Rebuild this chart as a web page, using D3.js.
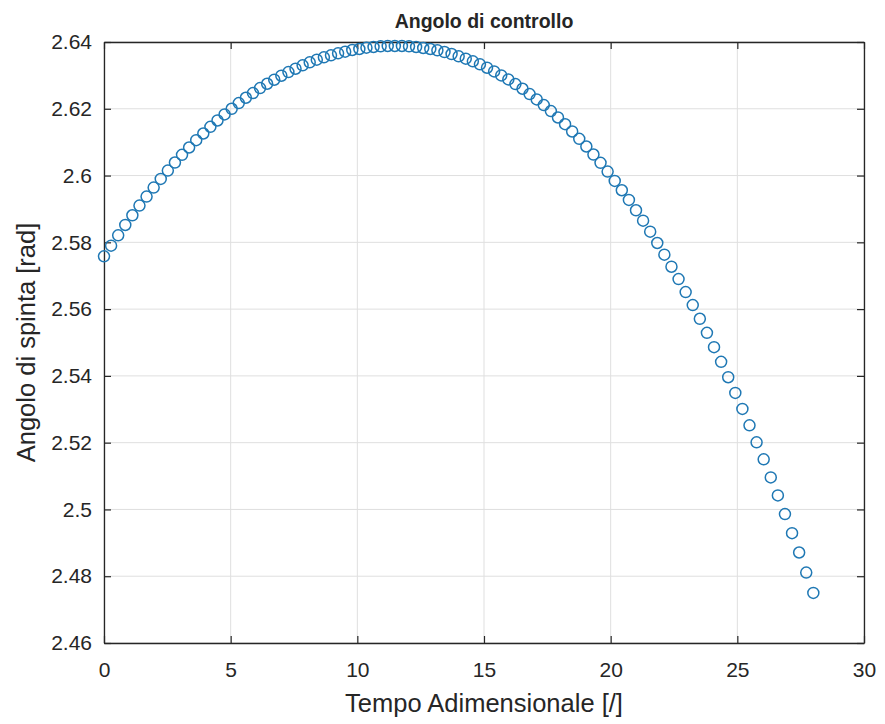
<!DOCTYPE html>
<html>
<head>
<meta charset="utf-8">
<script src="https://cdn.jsdelivr.net/npm/d3@7"></script>
<style>
  body { margin: 0; background: #ffffff; }
  svg { display: block; }
  text { font-family: "Liberation Sans", Arial, Helvetica, sans-serif; fill: #262626; }
</style>
</head>
<body>
<svg id="chart" width="885" height="724"></svg>
<script>
// Dimensionless time samples
const tempo = [
  0.00, 0.28, 0.56, 0.84, 1.12, 1.40, 1.68, 1.96, 2.24, 2.52,
  2.80, 3.08, 3.36, 3.64, 3.92, 4.20, 4.48, 4.76, 5.04, 5.32,
  5.60, 5.88, 6.16, 6.44, 6.72, 7.00, 7.28, 7.56, 7.84, 8.12,
  8.40, 8.68, 8.96, 9.24, 9.52, 9.80, 10.08, 10.36, 10.64, 10.92,
  11.20, 11.48, 11.76, 12.04, 12.32, 12.60, 12.88, 13.16, 13.44, 13.72,
  14.00, 14.28, 14.56, 14.84, 15.12, 15.40, 15.68, 15.96, 16.24, 16.52,
  16.80, 17.08, 17.36, 17.64, 17.92, 18.20, 18.48, 18.76, 19.04, 19.32,
  19.60, 19.88, 20.16, 20.44, 20.72, 21.00, 21.28, 21.56, 21.84, 22.12,
  22.40, 22.68, 22.96, 23.24, 23.52, 23.80, 24.08, 24.36, 24.64, 24.92,
  25.20, 25.48, 25.76, 26.04, 26.32, 26.60, 26.88, 27.16, 27.44, 27.72,
  28.00
];

// Thrust angle [rad] at each sample
const angolo = [
  2.5758, 2.5790, 2.5821, 2.5852, 2.5881, 2.5910, 2.5937, 2.5964, 2.5990, 2.6015,
  2.6039, 2.6062, 2.6084, 2.6106, 2.6126, 2.6146, 2.6165, 2.6183, 2.6200, 2.6217,
  2.6233, 2.6247, 2.6262, 2.6275, 2.6287, 2.6299, 2.6310, 2.6320, 2.6330, 2.6339,
  2.6347, 2.6354, 2.6360, 2.6366, 2.6371, 2.6376, 2.6379, 2.6383, 2.6385, 2.6387,
  2.6388, 2.6388, 2.6388, 2.6387, 2.6385, 2.6382, 2.6379, 2.6375, 2.6370, 2.6364,
  2.6357, 2.6350, 2.6342, 2.6333, 2.6323, 2.6312, 2.6300, 2.6288, 2.6274, 2.6260,
  2.6244, 2.6228, 2.6211, 2.6193, 2.6174, 2.6154, 2.6132, 2.6110, 2.6087, 2.6063,
  2.6038, 2.6012, 2.5984, 2.5956, 2.5927, 2.5896, 2.5865, 2.5832, 2.5798, 2.5763,
  2.5727, 2.5690, 2.5651, 2.5612, 2.5571, 2.5529, 2.5486, 2.5442, 2.5396, 2.5349,
  2.5301, 2.5252, 2.5201, 2.5150, 2.5096, 2.5042, 2.4986, 2.4929, 2.4871, 2.4811,
  2.4750
];

const xTicks = [0, 5, 10, 15, 20, 25, 30];
const xTickLabels = ["0", "5", "10", "15", "20", "25", "30"];
const yTicks = [2.46, 2.48, 2.50, 2.52, 2.54, 2.56, 2.58, 2.60, 2.62, 2.64];
const yTickLabels = ["2.46", "2.48", "2.5", "2.52", "2.54", "2.56", "2.58", "2.6", "2.62", "2.64"];

const titolo = "Angolo di controllo";
const etichettaX = "Tempo Adimensionale [/]";
const etichettaY = "Angolo di spinta [rad]";

// Plot box
const box = { left: 104, right: 864, top: 42, bottom: 643 };
const tickLen = 7;

const x = d3.scaleLinear().domain([0, 30]).range([box.left, box.right]);
const y = d3.scaleLinear().domain([2.46, 2.64]).range([box.bottom, box.top]);

const svg = d3.select("#chart");

// Grid
const grid = svg.append("g").attr("class", "grid");
grid.selectAll("line.gx").data(xTicks).join("line")
  .attr("class", "gx")
  .attr("x1", d => x(d)).attr("x2", d => x(d))
  .attr("y1", box.top).attr("y2", box.bottom)
  .attr("stroke", "#dfdfdf").attr("stroke-width", 1);
grid.selectAll("line.gy").data(yTicks).join("line")
  .attr("class", "gy")
  .attr("x1", box.left).attr("x2", box.right)
  .attr("y1", d => y(d)).attr("y2", d => y(d))
  .attr("stroke", "#dfdfdf").attr("stroke-width", 1);

// Axes (ticks point inward on all four sides)
function styleAxis(g) {
  g.select(".domain").attr("stroke", "#262626").attr("stroke-width", 1.3);
  g.selectAll(".tick line").attr("stroke", "#262626").attr("stroke-width", 1.2);
  g.selectAll(".tick text").attr("fill", "#333333").style("font-size", "21px");
}

svg.append("g")
  .attr("transform", `translate(0,${box.bottom})`)
  .call(d3.axisBottom(x).tickValues(xTicks).tickSizeInner(-tickLen).tickSizeOuter(0)
    .tickPadding(19).tickFormat((d, i) => xTickLabels[i]))
  .call(styleAxis);

svg.append("g")
  .attr("transform", `translate(0,${box.top})`)
  .call(d3.axisTop(x).tickValues(xTicks).tickSizeInner(-tickLen).tickSizeOuter(0)
    .tickFormat(""))
  .call(styleAxis);

svg.append("g")
  .attr("transform", `translate(${box.left},0)`)
  .call(d3.axisLeft(y).tickValues(yTicks).tickSizeInner(-tickLen).tickSizeOuter(0)
    .tickPadding(12).tickFormat((d, i) => yTickLabels[i]))
  .call(styleAxis);

svg.append("g")
  .attr("transform", `translate(${box.right},0)`)
  .call(d3.axisRight(y).tickValues(yTicks).tickSizeInner(-tickLen).tickSizeOuter(0)
    .tickFormat(""))
  .call(styleAxis);

// Markers
const punti = tempo.map((t, i) => ({ t, a: angolo[i] }));
svg.append("g").selectAll("circle").data(punti).join("circle")
  .attr("cx", d => x(d.t))
  .attr("cy", d => y(d.a))
  .attr("r", 5.5)
  .attr("fill", "none")
  .attr("stroke", "#1f78b4")
  .attr("stroke-width", 1.5);

// Title and labels
svg.append("text")
  .attr("x", (box.left + box.right) / 2).attr("y", 28)
  .attr("text-anchor", "middle")
  .style("font-size", "19.5px").style("font-weight", "bold")
  .attr("fill", "#000")
  .text(titolo);

svg.append("text")
  .attr("x", (box.left + box.right) / 2).attr("y", 712)
  .attr("text-anchor", "middle")
  .style("font-size", "25.5px")
  .text(etichettaX);

svg.append("text")
  .attr("transform", `translate(35,${(box.top + box.bottom) / 2}) rotate(-90)`)
  .attr("text-anchor", "middle")
  .style("font-size", "25.5px")
  .text(etichettaY);
</script>
</body>
</html>
